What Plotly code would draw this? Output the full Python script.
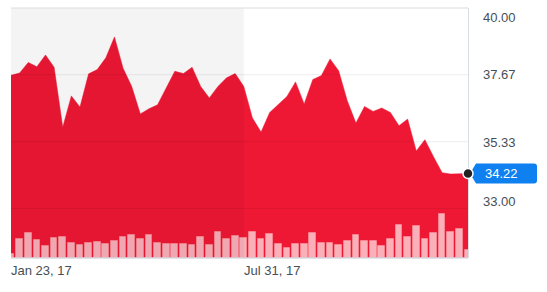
import pandas as pd
import plotly.graph_objects as go

# ---- data ----
start_date = "2017-01-23"
n_weeks = 54
dates = pd.date_range(start_date, periods=n_weeks, freq="7D")

close_prices = [
    37.65, 37.73, 38.10, 37.95, 38.36, 37.93, 35.84, 36.93, 36.54, 37.70,
    37.85, 38.26, 38.99, 37.90, 37.26, 36.30, 36.48, 36.62, 37.21, 37.79,
    37.71, 37.93, 37.26, 36.86, 37.26, 37.56, 37.71, 37.26, 36.16, 35.67,
    36.35, 36.62, 36.91, 37.42, 36.65, 37.50, 37.64, 38.22, 37.81, 36.76,
    35.98, 36.56, 36.39, 36.51, 36.35, 35.89, 36.12, 35.01, 35.40, 34.81,
    34.25, 34.20, 34.22, 34.22,
]

volume_m = [
    4.4, 19.3, 25.0, 18.3, 12.3, 20.3, 20.7, 15.3, 12.7, 15.3,
    16.3, 14.0, 17.3, 21.3, 22.7, 19.3, 22.7, 14.7, 14.3, 14.3,
    14.3, 13.3, 20.7, 13.0, 26.0, 19.3, 22.3, 20.0, 25.7, 19.3,
    23.7, 14.3, 10.0, 14.3, 14.3, 25.0, 15.3, 15.0, 13.3, 16.7,
    23.3, 16.7, 17.3, 11.7, 19.3, 32.7, 21.0, 31.7, 19.3, 25.3,
    44.3, 26.0, 29.3, 7.7,
]

y_tick_values = [40.00, 37.67, 35.33, 33.00]
y_tick_labels = ["40.00", "37.67", "35.33", "33.00"]
y_label_yshift = [-9, 0, -1, 7]
x_tick_dates = ["2017-01-23", "2017-07-31"]
x_tick_labels = ["Jan 23, 17", "Jul 31, 17"]
last_price_label = "34.22"

RED = "#ef1834"
TXT = "#464e56"
BORDER = "#d9dde4"
Y_RANGE = [31.27, 40.0]

fig = go.Figure()

fig.add_trace(go.Scatter(
    x=dates, y=close_prices, mode="lines", fill="tozeroy",
    line=dict(color=RED, width=0.5), fillcolor=RED, hoverinfo="skip",
    showlegend=False, yaxis="y",
))

fig.add_trace(go.Bar(
    x=dates, y=volume_m, yaxis="y2",
    width=0.78 * 7 * 86400000,
    marker=dict(color="rgba(255,255,255,0.66)",
                line=dict(color="rgba(255,150,160,0.6)", width=1)),
    showlegend=False, hoverinfo="skip",
))

fig.add_trace(go.Scatter(
    x=[dates[-1]], y=[close_prices[-1]], mode="markers", cliponaxis=False,
    marker=dict(size=10, color="#222222", line=dict(color="white", width=1.5)),
    showlegend=False, hoverinfo="skip", yaxis="y",
))

shapes = []
# shaded alternate band
shapes.append(dict(type="rect", xref="x", yref="paper", x0=dates[0], x1=x_tick_dates[1],
                   y0=0, y1=1, fillcolor="rgba(0,0,0,0.045)", line=dict(width=0), layer="above"))
# grid lines
for v in y_tick_values[1:]:
    shapes.append(dict(type="line", xref="paper", yref="y", x0=0, x1=1, y0=v, y1=v,
                       line=dict(color="rgba(0,0,0,0.07)", width=1), layer="above"))
# borders
shapes.append(dict(type="line", xref="paper", yref="paper", x0=0, x1=1, y0=1, y1=1,
                   line=dict(color="#dcdcdc", width=1), layer="above"))
shapes.append(dict(type="line", xref="paper", yref="paper", x0=0, x1=1, y0=0, y1=0,
                   line=dict(color=BORDER, width=1.5), layer="above"))
# last-price badge (paper-referenced so it is not clipped; drawn below the dot)
last_frac = (close_prices[-1] - Y_RANGE[0]) / (Y_RANGE[1] - Y_RANGE[0])
shapes.append(dict(type="path", xref="paper", yref="paper", xsizemode="pixel", ysizemode="pixel",
                   xanchor=1, yanchor=last_frac,
                   path="M 2,0 L 8,-10 L 66,-10 Q 69,-10 69,-7 L 69,7 Q 69,10 66,10 L 8,10 Z",
                   fillcolor="#0f80f0", line=dict(width=0), layer="below"))

annotations = []
for v, lab, sh in zip(y_tick_values, y_tick_labels, y_label_yshift):
    annotations.append(dict(xref="paper", yref="y", x=1, y=v, text=lab, showarrow=False,
                            xanchor="left", yanchor="middle", xshift=13, yshift=sh,
                            font=dict(size=13, color=TXT, family="Liberation Sans, Arial")))
for d, lab in zip(x_tick_dates, x_tick_labels):
    annotations.append(dict(xref="x", yref="paper", x=d, y=0, text=lab, showarrow=False,
                            xanchor="left", yanchor="top", xshift=-2, yshift=-3,
                            font=dict(size=13, color=TXT, family="Liberation Sans, Arial")))
annotations.append(dict(xref="x", yref="y", x=dates[-1], y=close_prices[-1], text=last_price_label,
                        showarrow=False, xanchor="center", yanchor="middle", xshift=33,
                        font=dict(size=13, color="white", family="Liberation Sans, Arial")))

fig.update_layout(
    width=547, height=292,
    margin=dict(l=11, r=79, t=8, b=34),
    paper_bgcolor="white", plot_bgcolor="white",
    xaxis=dict(range=[dates[0], dates[-1]], showgrid=False, showticklabels=False,
               zeroline=False, showline=False, ticks=""),
    yaxis=dict(range=Y_RANGE, showgrid=False, showticklabels=False,
               zeroline=False, showline=True, linecolor=BORDER, linewidth=1,
               side="right", layer="below traces"),
    yaxis2=dict(range=[0, 250], overlaying="y", showgrid=False, showticklabels=False,
                zeroline=False, showline=False),
    bargap=0,
    shapes=shapes, annotations=annotations,
    showlegend=False,
)

fig.write_html("out.html")
